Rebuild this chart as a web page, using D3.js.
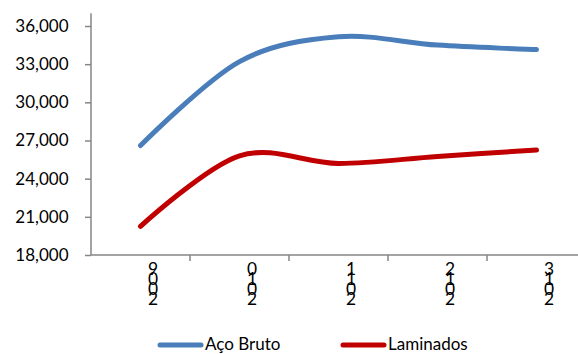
<!DOCTYPE html>
<html><head><meta charset="utf-8">
<script src="https://cdn.jsdelivr.net/npm/d3@7"></script>
<style>
html,body{margin:0;padding:0;background:#fff;overflow:hidden}
svg{display:block;font-family:Lato,"Open Sans",sans-serif}
</style></head>
<body>
<svg id="c" width="578" height="354"></svg>
<script>
const years = ["2009","2010","2011","2012","2013"];
const acoBruto = [26600, 33200, 35150, 34500, 34150];
const laminados = [20250, 25800, 25200, 25750, 26250];
const yTicks = [18000, 21000, 24000, 27000, 30000, 33000, 36000];
const seriesNames = ["Aço Bruto", "Laminados"];
const seriesColors = ["#4a7ebb", "#c00000"];

const svg = d3.select("#c");
const axisColor = "#868686";
const x = d3.scaleBand().domain(years).range([91, 586]).padding(0);
const y = d3.scaleLinear().domain([18000, 37000]).range([255, 13.3]);

// Y axis
const yAxis = svg.append("g").attr("transform","translate(91,0)")
  .call(d3.axisLeft(y).tickValues(yTicks).tickFormat(d3.format(",")).tickSize(6).tickPadding(16.5));
yAxis.select(".domain").attr("stroke", axisColor).attr("stroke-width",1.5).attr("d","M0,13.3V255");
yAxis.selectAll(".tick line").attr("stroke", axisColor).attr("stroke-width",1.5);
yAxis.selectAll(".tick text").attr("fill","#000").style("font-size","17px").style("font-family","Lato");

// X axis line and ticks at category boundaries
const xg = svg.append("g");
xg.append("line").attr("x1",91).attr("x2",586).attr("y1",y(18000)).attr("y2",y(18000))
  .attr("stroke",axisColor).attr("stroke-width",1.5);
xg.selectAll("line.tk").data(years.slice(1)).join("line").attr("class","tk")
  .attr("x1",d=>x(d)).attr("x2",d=>x(d)).attr("y1",y(18000)).attr("y2",y(18000)+6)
  .attr("stroke",axisColor).attr("stroke-width",1.5);
// Labels: text rotated -90 with upright glyphs (stacked bottom to top)
xg.selectAll("text.yl").data(years).join("text").attr("class","yl")
  .attr("transform", d=>`translate(${x(d)+x.bandwidth()/2+7.5},305) rotate(-90)`)
  .attr("rotate", 90)
  .style("font-size","17.4px").attr("fill","#000")
  .text(d=>d);

// Lines
const line = d3.line().x((d,i)=>x(years[i])+x.bandwidth()/2).y(d=>y(d)).curve(d3.curveCatmullRom.alpha(0));
[acoBruto, laminados].forEach((s,k)=>{
  svg.append("path").datum(s).attr("d",line).attr("fill","none")
    .attr("stroke",seriesColors[k]).attr("stroke-width",5).attr("stroke-linecap","round");
});

// Legend
const legX = [160, 343];
seriesNames.forEach((n,k)=>{
  const g = svg.append("g").attr("transform",`translate(${legX[k]},345)`);
  g.append("line").attr("x1",0).attr("x2",41).attr("stroke",seriesColors[k]).attr("stroke-width",5).attr("stroke-linecap","round");
  g.append("text").attr("x",45).attr("y",5).style("font-size","17px").attr("fill","#000").text(n);
});
</script>
</body></html>
